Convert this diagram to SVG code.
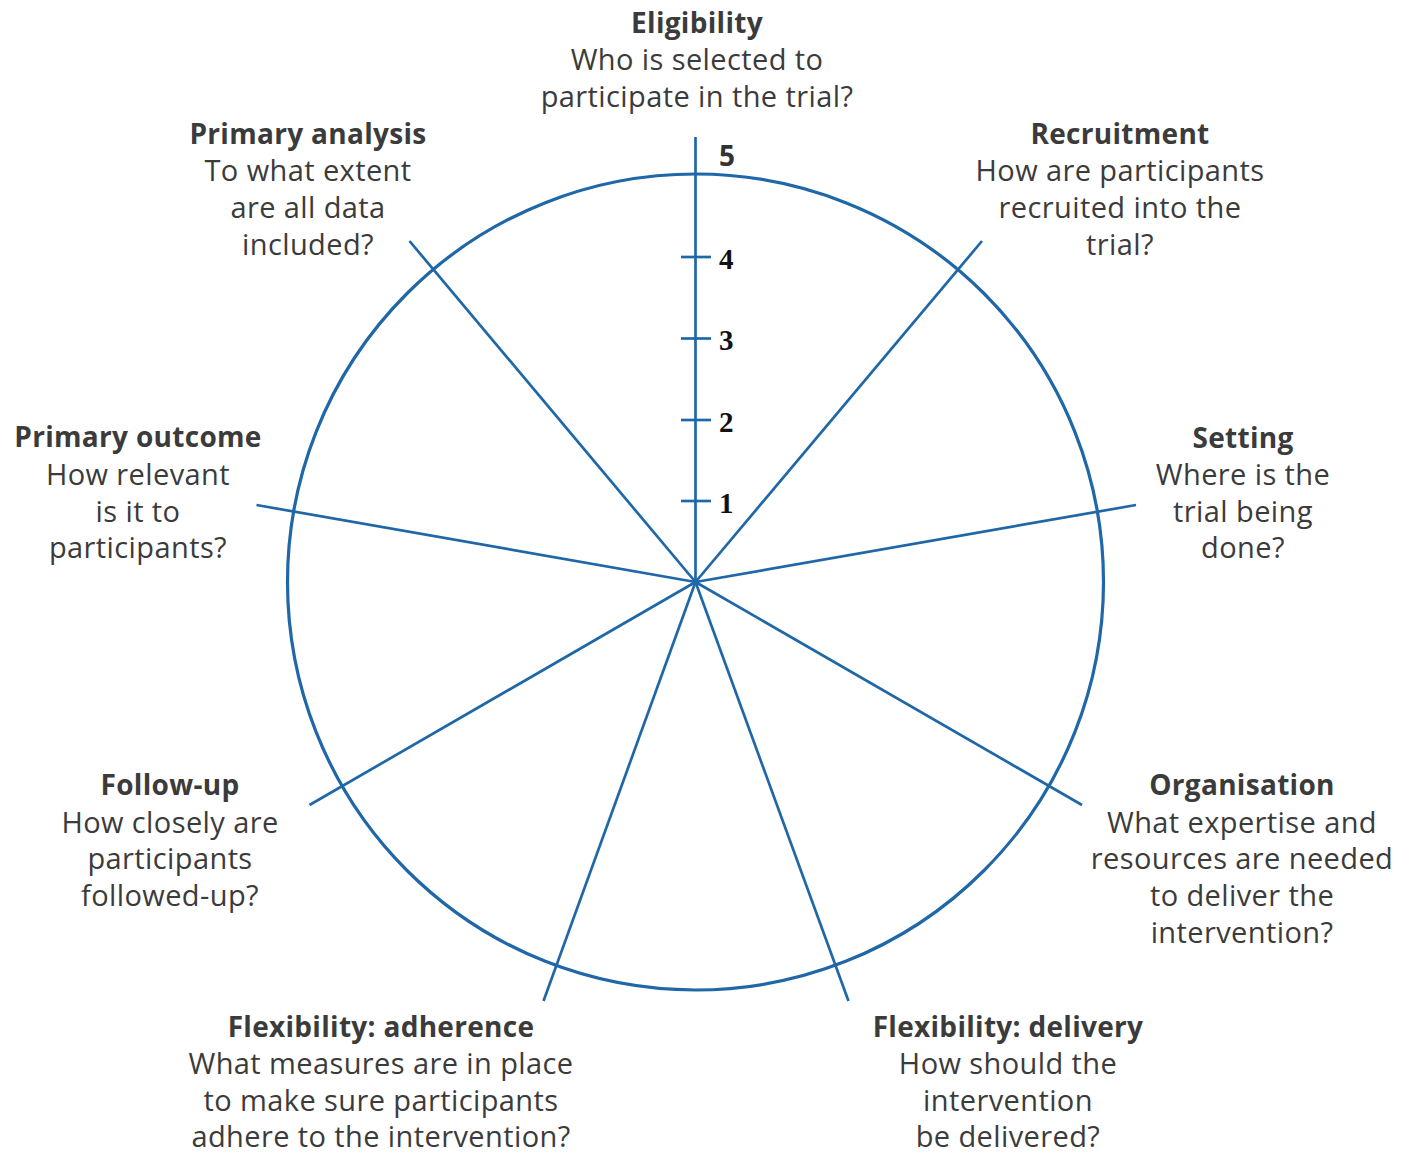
<svg xmlns="http://www.w3.org/2000/svg" width="1415" height="1155" viewBox="0 0 1415 1155">
<style>
.ln{stroke:#1f67a6;stroke-width:2.7;fill:none;stroke-linecap:butt}
.circ{stroke:#1f67a6;stroke-width:3.2;fill:none}
.t{font-family:"Open Sans","Noto Sans",sans-serif;font-size:29px;letter-spacing:0.4px;fill:#3b3b3b;text-anchor:middle}
.b{font-weight:700;font-size:28px;letter-spacing:0.3px}
.num{font-family:"Liberation Serif",serif;font-weight:700;font-size:29px;fill:#111}
.n5{font-family:"Open Sans",sans-serif;font-weight:700;font-size:28px;fill:#333}
</style>
<rect width="1415" height="1155" fill="#fff"/>
<g id="connectors">
<circle class="circ" cx="695.5" cy="582" r="408"/>
<line class="ln" x1="695.5" y1="582" x2="695.5" y2="137"/>
<line class="ln" x1="695.5" y1="582" x2="982" y2="241"/>
<line class="ln" x1="695.5" y1="582" x2="1136" y2="505"/>
<line class="ln" x1="695.5" y1="582" x2="1082" y2="805"/>
<line class="ln" x1="695.5" y1="582" x2="848.5" y2="1001"/>
<line class="ln" x1="695.5" y1="582" x2="543.5" y2="1001"/>
<line class="ln" x1="695.5" y1="582" x2="309.5" y2="805"/>
<line class="ln" x1="695.5" y1="582" x2="256.5" y2="505"/>
<line class="ln" x1="695.5" y1="582" x2="409.5" y2="241"/>
<line class="ln" x1="681" y1="257" x2="711" y2="257"/>
<line class="ln" x1="681" y1="338.5" x2="711" y2="338.5"/>
<line class="ln" x1="681" y1="420" x2="711" y2="420"/>
<line class="ln" x1="681" y1="501" x2="711" y2="501"/>
</g>
<g id="scale">
<text class="n5" x="719" y="166">5</text>
<text class="num" x="719" y="269">4</text>
<text class="num" x="719" y="350">3</text>
<text class="num" x="719" y="432">2</text>
<text class="num" x="719" y="513">1</text>
</g>
<g id="eligibility">
<text class="t b" x="697" y="33">Eligibility</text>
<text class="t" x="697" y="70">Who is selected to</text>
<text class="t" x="697" y="107">participate in the trial?</text>
</g>
<g id="recruitment">
<text class="t b" x="1120" y="144">Recruitment</text>
<text class="t" x="1120" y="181">How are participants</text>
<text class="t" x="1120" y="218">recruited into the</text>
<text class="t" x="1120" y="255">trial?</text>
</g>
<g id="setting">
<text class="t b" x="1243" y="448">Setting</text>
<text class="t" x="1243" y="485">Where is the</text>
<text class="t" x="1243" y="522">trial being</text>
<text class="t" x="1243" y="558">done?</text>
</g>
<g id="organisation">
<text class="t b" x="1242" y="795">Organisation</text>
<text class="t" x="1242" y="833">What expertise and</text>
<text class="t" x="1242" y="869">resources are needed</text>
<text class="t" x="1242" y="906">to deliver the</text>
<text class="t" x="1242" y="943">intervention?</text>
</g>
<g id="flexibility-delivery">
<text class="t b" x="1008" y="1037">Flexibility: delivery</text>
<text class="t" x="1008" y="1074">How should the</text>
<text class="t" x="1008" y="1111">intervention</text>
<text class="t" x="1008" y="1147">be delivered?</text>
</g>
<g id="flexibility-adherence">
<text class="t b" x="381" y="1037">Flexibility: adherence</text>
<text class="t" x="381" y="1074">What measures are in place</text>
<text class="t" x="381" y="1111">to make sure participants</text>
<text class="t" x="381" y="1147">adhere to the intervention?</text>
</g>
<g id="follow-up">
<text class="t b" x="170" y="795">Follow-up</text>
<text class="t" x="170" y="833">How closely are</text>
<text class="t" x="170" y="869">participants</text>
<text class="t" x="170" y="906">followed-up?</text>
</g>
<g id="primary-outcome">
<text class="t b" x="138" y="447">Primary outcome</text>
<text class="t" x="138" y="485">How relevant</text>
<text class="t" x="138" y="522">is it to</text>
<text class="t" x="138" y="558">participants?</text>
</g>
<g id="primary-analysis">
<text class="t b" x="308" y="144">Primary analysis</text>
<text class="t" x="308" y="181">To what extent</text>
<text class="t" x="308" y="218">are all data</text>
<text class="t" x="308" y="255">included?</text>
</g>
</svg>
